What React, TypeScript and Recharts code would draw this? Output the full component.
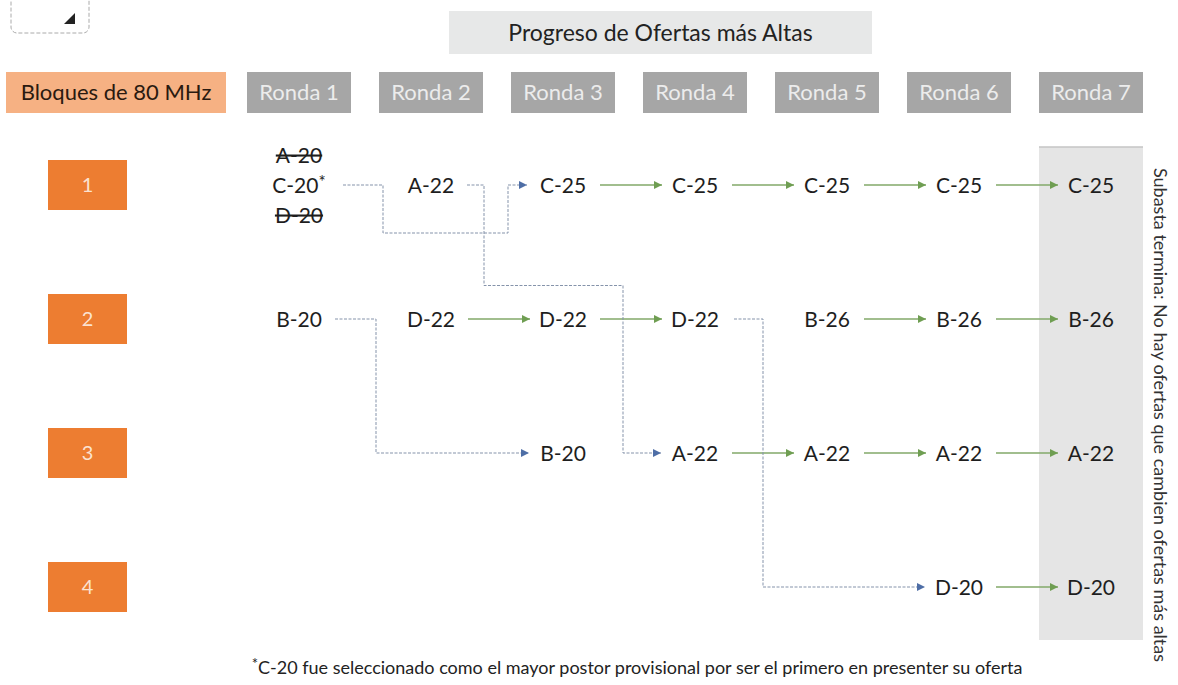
import { ScatterChart, Scatter, XAxis, YAxis, ReferenceArea, ReferenceLine } from 'recharts'

const rondas = ['Ronda 1', 'Ronda 2', 'Ronda 3', 'Ronda 4', 'Ronda 5', 'Ronda 6', 'Ronda 7']
const bloques = ['1', '2', '3', '4']

// oferta más alta de cada bloque, ronda por ronda (null = sin oferta)
const bloque1 = ['C-20*', 'A-22', 'C-25', 'C-25', 'C-25', 'C-25', 'C-25']
const bloque2 = ['B-20', 'D-22', 'D-22', 'D-22', 'B-26', 'B-26', 'B-26']
const bloque3 = [null, null, 'B-20', 'A-22', 'A-22', 'A-22', 'A-22']
const bloque4 = [null, null, null, null, null, 'D-20', 'D-20']

// empate de la ronda 1 en el bloque 1
const descartadasRonda1 = ['A-20', 'D-20']

// ofertas que cambian de bloque: [ronda, bloque] -> [ronda, bloque]
const cambios = [
  { de: [1, 1], a: [3, 1] },
  { de: [2, 1], a: [4, 3] },
  { de: [1, 2], a: [3, 3] },
  { de: [4, 2], a: [6, 4] },
]

const titulo = 'Progreso de Ofertas más Altas'
const cabeceraBloques = 'Bloques de 80 MHz'
const notaFin = 'Subasta termina: No hay ofertas que cambien ofertas más altas'
const notaPie = 'C-20 fue seleccionado como el mayor postor provisional por ser el primero en presenter su oferta'

// layout (px)
const W = 1178
const H = 685
const COL = 132
const ROW = 134
const X0 = 299
const Y0 = 185
const FONT = "Lato, 'Open Sans', sans-serif"

const dx = (p: number) => p / COL
const dy = (p: number) => p / ROW
const xAt = (p: number) => 1 + (p - X0) / COL
const yAt = (p: number) => 1 + (p - Y0) / ROW

const X_DOMAIN = [xAt(0), xAt(W)]
const Y_DOMAIN = [yAt(0), yAt(H)]

const HEADER_Y = yAt(92.5)
const BLOCK_X = xAt(87.5)

const filas = [bloque1, bloque2, bloque3, bloque4]

const nodos = [
  ...filas.flatMap((fila, b) =>
    fila.map((label, r) => (label ? { x: r + 1, y: b + 1, label } : null)).filter(Boolean)
  ),
  ...descartadasRonda1.map((label, i) => ({ x: 1, y: 1 + dy(i === 0 ? -30 : 30), label, struck: true })),
]

// flechas verdes: la misma oferta sigue en el mismo bloque
const mantiene: { pts: { x: number; y: number; head?: boolean }[] }[] = []
filas.forEach((fila, b) => {
  for (let r = 1; r < fila.length; r++) {
    if (fila[r] && fila[r] === fila[r - 1]) {
      mantiene.push({
        pts: [
          { x: r + dx(37), y: b + 1 },
          { x: r + 1 - dx(33), y: b + 1, head: true },
        ],
      })
    }
  }
})

// recorridos de los cambios de bloque
const rutas = cambios.map(({ de, a }, i) => {
  const [r0, b0] = de
  const [r1, b1] = a
  if (i === 0) {
    const low = b0 + dy(48)
    return [
      { x: r0 + dx(44), y: b0 },
      { x: r0 + dx(84), y: b0 },
      { x: r0 + dx(84), y: low },
      { x: r1 - dx(55), y: low },
      { x: r1 - dx(55), y: b1 },
      { x: r1 - dx(36), y: b1, head: true },
    ]
  }
  if (i === 1) {
    const mid = b0 + 0.75
    return [
      { x: r0 + dx(36), y: b0 },
      { x: r0 + dx(53), y: b0 },
      { x: r0 + dx(53), y: mid },
      { x: r1 - dx(72), y: mid },
      { x: r1 - dx(72), y: b1 },
      { x: r1 - dx(34), y: b1, head: true },
    ]
  }
  const lane = i === 2 ? dx(77) : dx(68)
  const out = i === 2 ? dx(36) : dx(39)
  return [
    { x: r0 + out, y: b0 },
    { x: r0 + lane, y: b0 },
    { x: r0 + lane, y: b1 },
    { x: r1 - dx(34), y: b1, head: true },
  ]
})

const arrowHead = (color: string) => (props: any) => {
  const { cx, cy, payload } = props
  if (!payload.head) return <g />
  return <polygon points={`${cx},${cy} ${cx - 8},${cy - 4} ${cx - 8},${cy + 4}`} fill={color} />
}

const NodeLabel = (props: any) => {
  const { cx, cy, payload } = props
  const star = payload.label.endsWith('*')
  const text = star ? payload.label.slice(0, -1) : payload.label
  return (
    <text
      x={cx}
      y={cy}
      dy="0.36em"
      textAnchor="middle"
      fontSize={21}
      fontFamily={FONT}
      fill="#1e1e1e"
      style={payload.struck ? { textDecoration: 'line-through' } : undefined}
    >
      {text}
      {star && (
        <tspan fontSize={17} dy={-5}>
          *
        </tspan>
      )}
    </text>
  )
}

const box =
  (w: number, h: number, fill: string, color: string, size: number) =>
  (props: any) => {
    const { cx, cy, payload } = props
    return (
      <g>
        <rect x={cx - w / 2} y={cy - h / 2} width={w} height={h} fill={fill} />
        <text x={cx} y={cy} dy="0.36em" textAnchor="middle" fontSize={size} fontFamily={FONT} fill={color}>
          {payload.label}
        </text>
      </g>
    )
  }

const VerticalNote = (props: any) => {
  const { cx, cy, payload } = props
  return (
    <text
      x={cx}
      y={cy}
      dy="0.36em"
      textAnchor="middle"
      fontSize={18}
      fontFamily={FONT}
      fill="#333"
      transform={`rotate(90, ${cx}, ${cy})`}
    >
      {payload.label}
    </text>
  )
}

const FootNote = (props: any) => {
  const { cx, cy, payload } = props
  return (
    <text x={cx} y={cy} dy="0.36em" textAnchor="middle" fontSize={18} fontFamily={FONT} fill="#222">
      <tspan fontSize={15} dy={-5}>
        *
      </tspan>
      <tspan dy={5}>{payload.label}</tspan>
    </text>
  )
}

const Corner = (props: any) => {
  const { x, y, width, height } = props
  return (
    <g>
      <rect x={x} y={y} width={width} height={height} rx={6} fill="none" stroke="#aaa" strokeDasharray="4 2" />
      <polygon points={`${x + width - 14},${y + height - 20} ${x + width - 14},${y + height - 9} ${x + width - 25},${y + height - 9}`} fill="#222" />
    </g>
  )
}

export default function App() {
  return (
    <div style={{ position: 'absolute', left: 0, top: 0, width: W, height: H, background: '#fff' }}>
      <ScatterChart width={W} height={H} margin={{ top: 0, right: 0, bottom: 0, left: 0 }}>
        <XAxis type="number" dataKey="x" domain={X_DOMAIN} allowDataOverflow hide />
        <YAxis type="number" dataKey="y" domain={Y_DOMAIN} allowDataOverflow reversed hide />

        <ReferenceArea x1={xAt(11)} x2={xAt(89)} y1={yAt(-8)} y2={yAt(33)} shape={Corner} ifOverflow="visible" />
        <ReferenceArea
          x1={rondas.length - dx(52)}
          x2={rondas.length + dx(52)}
          y1={yAt(147)}
          y2={yAt(640)}
          fill="#e5e5e5"
          fillOpacity={1}
          stroke="none"
        />
        <ReferenceLine
          segment={[
            { x: rondas.length - dx(52), y: yAt(147) },
            { x: rondas.length + dx(52), y: yAt(147) },
          ]}
          stroke="#c4c4c4"
          strokeWidth={1.5}
        />

        <Scatter
          data={[{ x: xAt(660.5), y: yAt(32.5), label: titulo }]}
          shape={box(423, 43, '#e7e8e8', '#222', 23)}
          isAnimationActive={false}
        />
        <Scatter
          data={[{ x: xAt(116), y: HEADER_Y, label: cabeceraBloques }]}
          shape={box(220, 41, '#f6b183', '#2a1a10', 22)}
          isAnimationActive={false}
        />
        <Scatter
          data={rondas.map((label, i) => ({ x: i + 1, y: HEADER_Y, label }))}
          shape={box(104, 41, '#a6a6a6', '#ececec', 22)}
          isAnimationActive={false}
        />
        <Scatter
          data={bloques.map((label, i) => ({ x: BLOCK_X, y: i + 1, label }))}
          shape={box(79, 50, '#ed7d31', '#fbe2d0', 20)}
          isAnimationActive={false}
        />

        {mantiene.map((m, i) => (
          <Scatter
            key={`m${i}`}
            data={m.pts}
            line={{ stroke: '#82a968', strokeWidth: 1.3 }}
            shape={arrowHead('#6f9e52')}
            isAnimationActive={false}
          />
        ))}
        {rutas.map((pts, i) => (
          <Scatter
            key={`c${i}`}
            data={pts}
            line={{ stroke: '#8593aa', strokeWidth: 1, strokeDasharray: '3 1.5' }}
            shape={arrowHead('#4e6ea6')}
            isAnimationActive={false}
          />
        ))}

        <Scatter data={nodos} shape={NodeLabel} isAnimationActive={false} />
        <Scatter
          data={[{ x: xAt(1160), y: yAt(415), label: notaFin }]}
          shape={VerticalNote}
          isAnimationActive={false}
        />
        <Scatter
          data={[{ x: xAt(637), y: yAt(674), label: notaPie }]}
          shape={FootNote}
          isAnimationActive={false}
        />
      </ScatterChart>
    </div>
  )
}
